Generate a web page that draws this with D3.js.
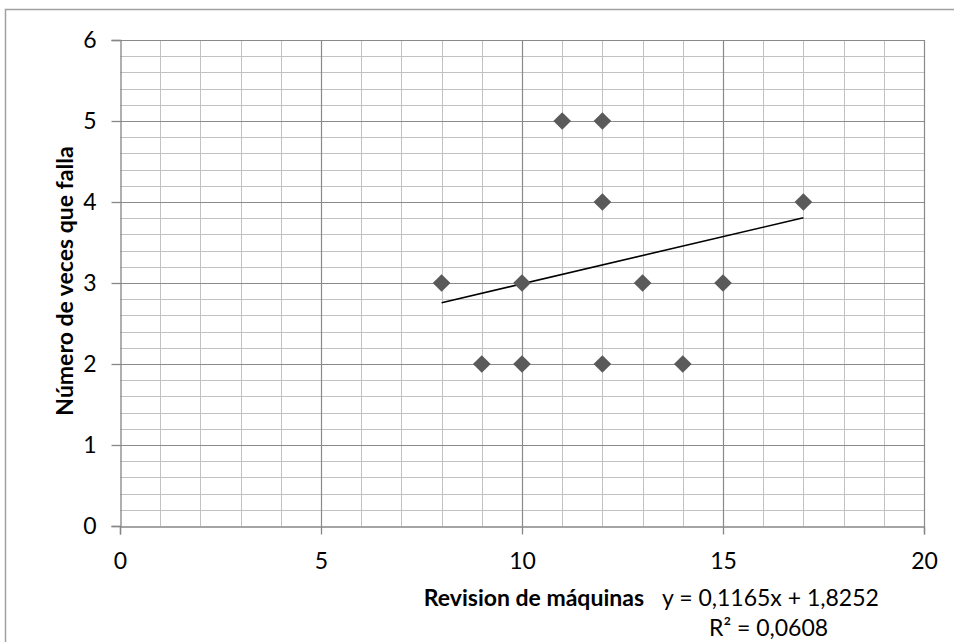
<!DOCTYPE html>
<html>
<head>
<meta charset="utf-8">
<script src="https://cdn.jsdelivr.net/npm/d3@7"></script>
<style>
  body { margin: 0; background: #fff; }
  text { font-family: Lato, "Open Sans", sans-serif; fill: #000; }
  .tick-label { font-size: 23px; }
  .title { font-size: 23px; font-weight: bold; }
  .eq { font-size: 23px; }
</style>
</head>
<body>
<div id="chart"></div>
<script>
// data
var revisiones = [8, 9, 10, 10, 11, 12, 12, 12, 13, 14, 15, 17];
var fallas     = [3, 2, 2, 3, 5, 5, 4, 2, 3, 2, 3, 4];
var xTicks = [0, 5, 10, 15, 20];
var yTicks = [0, 1, 2, 3, 4, 5, 6];
var trendSlope = 0.1165, trendIntercept = 1.8252, trendR2 = 0.0608;

var w = 954, h = 642;

var svg = d3.select("#chart").append("svg")
    .attr("width", w)
    .attr("height", h);

// outer chart frame (runs off the bottom / right edge)
svg.append("rect")
    .attr("x", 5.5).attr("y", 9.5)
    .attr("width", 960).attr("height", 700)
    .attr("fill", "none")
    .attr("stroke", "#a0a0a0")
    .attr("stroke-width", 1.5);

var x = d3.scaleLinear().domain([0, 20]).range([120, 924]);
var y = d3.scaleLinear().domain([0, 6]).range([526, 40]);

function px(v) { return Math.round(v) + 0.5; }

// minor grid
svg.append("g").selectAll("line")
    .data(d3.range(1, 20).filter(function (d) { return d % 5 != 0; }))
    .enter().append("line")
    .attr("x1", function (d) { return px(x(d)); })
    .attr("x2", function (d) { return px(x(d)); })
    .attr("y1", y(6)).attr("y2", y(0))
    .attr("stroke", "#c2c2c2").attr("stroke-width", 1);

svg.append("g").selectAll("line")
    .data(d3.range(1, 30).filter(function (d) { return d % 5 != 0; }))
    .enter().append("line")
    .attr("y1", function (d) { return px(y(d / 5)); })
    .attr("y2", function (d) { return px(y(d / 5)); })
    .attr("x1", x(0)).attr("x2", x(20))
    .attr("stroke", "#c2c2c2").attr("stroke-width", 1);

// major grid
svg.append("g").selectAll("line")
    .data(xTicks.slice(1))
    .enter().append("line")
    .attr("x1", function (d) { return px(x(d)); })
    .attr("x2", function (d) { return px(x(d)); })
    .attr("y1", y(6)).attr("y2", y(0))
    .attr("stroke", "#8a8a8a").attr("stroke-width", 1.2);

svg.append("g").selectAll("line")
    .data(yTicks.slice(1))
    .enter().append("line")
    .attr("y1", function (d) { return px(y(d)); })
    .attr("y2", function (d) { return px(y(d)); })
    .attr("x1", x(0)).attr("x2", x(20))
    .attr("stroke", "#8a8a8a").attr("stroke-width", 1.2);

// axes
var xAxis = d3.axisBottom(x).tickValues(xTicks).tickFormat(d3.format("d"))
    .tickSize(8).tickPadding(18);
var yAxis = d3.axisLeft(y).tickValues(yTicks).tickFormat(d3.format("d"))
    .tickSize(9).tickPadding(15);

var gx = svg.append("g")
    .attr("transform", "translate(0," + px(y(0)) + ")")
    .call(xAxis);
var gy = svg.append("g")
    .attr("transform", "translate(" + px(x(0)) + ",0)")
    .call(yAxis);

[gx, gy].forEach(function (g) {
    g.selectAll("path, line").attr("stroke", "#868686").attr("stroke-width", 1.3);
    g.selectAll("text").attr("class", "tick-label").attr("font-family", null).attr("font-size", null);
});

// trend line
var trendX = [d3.min(revisiones), d3.max(revisiones)];
svg.append("line")
    .attr("x1", x(trendX[0])).attr("y1", y(trendIntercept + trendSlope * trendX[0]))
    .attr("x2", x(trendX[1])).attr("y2", y(trendIntercept + trendSlope * trendX[1]))
    .attr("stroke", "#000").attr("stroke-width", 1.6);

// diamond markers
var pts = revisiones.map(function (d, i) { return { x: d, y: fallas[i] }; });
svg.append("g").selectAll("path")
    .data(pts)
    .enter().append("path")
    .attr("d", d3.symbol().type(d3.symbolDiamond2).size(200))
    .attr("transform", function (d) { return "translate(" + x(d.x) + "," + y(d.y) + ")"; })
    .attr("fill", "#5a5a5a");

// titles
svg.append("text")
    .attr("class", "title")
    .attr("transform", "translate(73,281) rotate(-90)")
    .attr("text-anchor", "middle")
    .text("Número de veces que falla");

svg.append("text")
    .attr("class", "title")
    .attr("x", 644).attr("y", 606)
    .attr("text-anchor", "end")
    .text("Revision de máquinas");

// trendline label
function comma(v) { return v.toString().replace(".", ","); }

svg.append("text")
    .attr("class", "eq")
    .attr("x", 662).attr("y", 606)
    .text("y = " + comma(trendSlope) + "x + " + comma(trendIntercept));

svg.append("text")
    .attr("class", "eq")
    .attr("x", 709).attr("y", 636)
    .text("R² = " + comma(trendR2));
</script>
</body>
</html>
